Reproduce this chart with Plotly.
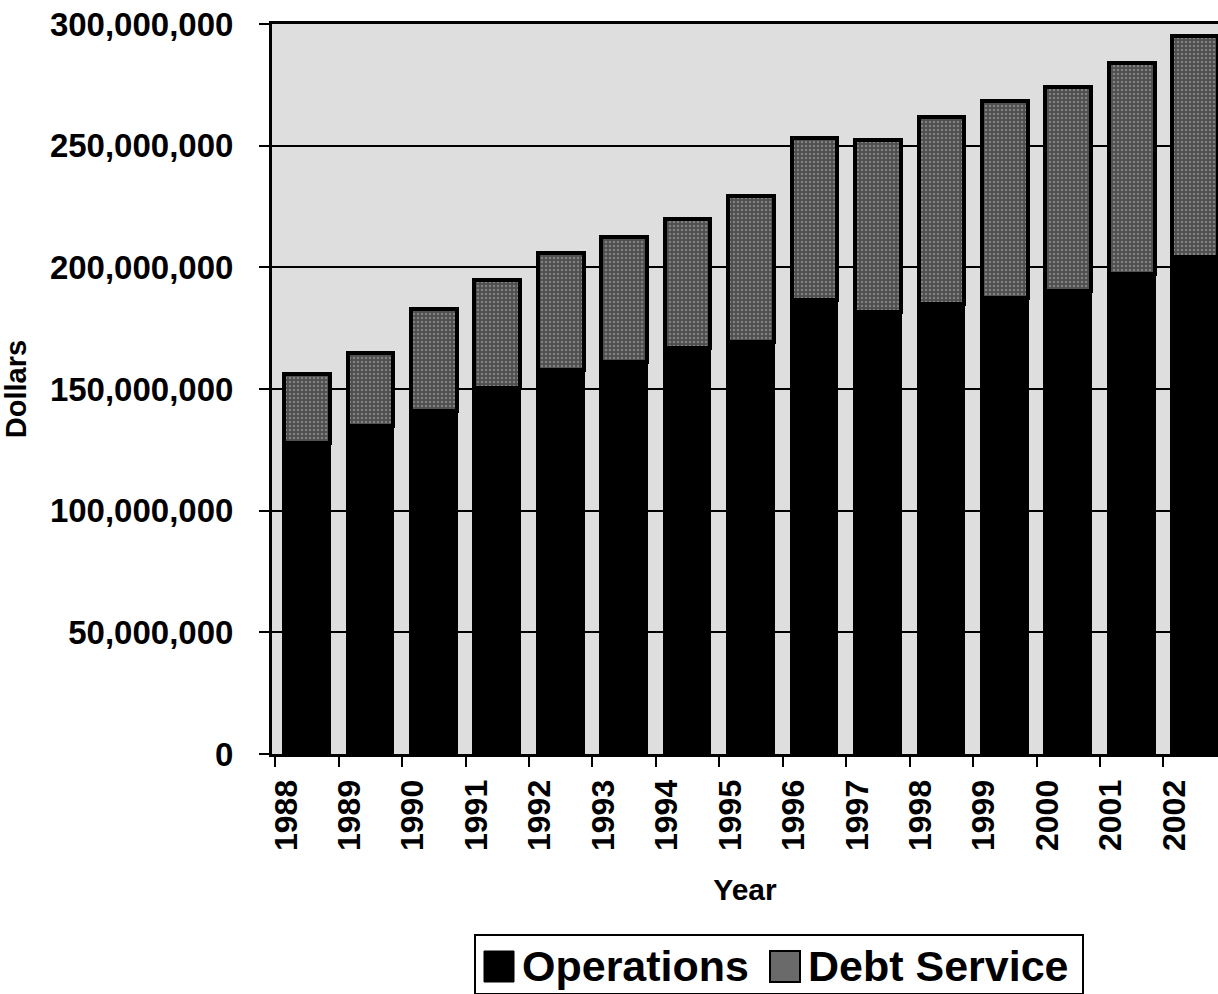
import plotly.graph_objects as go

# Annual spending, split into operations and debt service (dollars)
years = ["1988", "1989", "1990", "1991", "1992", "1993", "1994", "1995",
         "1996", "1997", "1998", "1999", "2000", "2001", "2002"]
operations = [127_800_000, 134_800_000, 141_000_000, 150_400_000, 157_800_000,
              161_100_000, 166_900_000, 169_300_000, 186_600_000, 181_700_000,
              185_000_000, 187_400_000, 190_300_000, 197_300_000, 204_300_000]
debt_service = [28_400_000, 30_000_000, 41_900_000, 44_400_000, 48_100_000,
                51_400_000, 53_000_000, 60_000_000, 66_600_000, 70_700_000,
                76_800_000, 81_000_000, 83_800_000, 86_700_000, 90_800_000]
y_ticks = [0, 50_000_000, 100_000_000, 150_000_000, 200_000_000, 250_000_000, 300_000_000]

W, H = 1218, 994
M_L, M_R, M_T, M_B = 272, 0, 24, 240
FONT = "Liberation Sans, Arial, sans-serif"

# each year occupies one unit slot; the bar sits in the middle of its slot
slot = list(range(len(years)))
bar_x = [i + 0.5 for i in slot]

fig = go.Figure()
fig.add_trace(go.Bar(
    x=bar_x, y=operations, name="Operations", width=0.72,
    marker=dict(color="black", line=dict(color="black", width=3)),
))
fig.add_trace(go.Bar(
    x=bar_x, y=debt_service, name="Debt Service", width=0.72,
    marker=dict(
        color="#5a5a5a",
        line=dict(color="black", width=4),
        pattern=dict(shape=".", fgcolor="#b4b4b4", bgcolor="#4e4e4e",
                     size=4, solidity=0.3, fillmode="overlay"),
    ),
))

plot_w = W - M_L - M_R
plot_h = H - M_T - M_B


def px(x, y):
    """Convert page pixels to paper coordinates."""
    return (x - M_L) / plot_w, (H - M_B - y) / plot_h


# hand-built legend box with large swatches
shapes = []
annotations = []
x0, y0 = px(475, 935)
x1, y1 = px(1083, 994)
shapes.append(dict(type="rect", xref="paper", yref="paper", x0=x0, y0=y0, x1=x1, y1=y1,
                   line=dict(color="black", width=2), fillcolor="white", layer="above"))
sx0, sy0 = px(484, 951)
sx1, sy1 = px(514, 982)
shapes.append(dict(type="rect", xref="paper", yref="paper", x0=sx0, y0=sy0, x1=sx1, y1=sy1,
                   line=dict(color="black", width=1), fillcolor="black", layer="above"))
gx0, gy0 = px(770, 951)
gx1, gy1 = px(800, 982)
shapes.append(dict(type="rect", xref="paper", yref="paper", x0=gx0, y0=gy0, x1=gx1, y1=gy1,
                   line=dict(color="black", width=2), fillcolor="#6a6a6a", layer="above"))
for label, lx in (("Operations", 520), ("Debt Service", 806)):
    ax, ay = px(lx, 966)
    annotations.append(dict(text=label, xref="paper", yref="paper", x=ax, y=ay,
                            xanchor="left", yanchor="middle", showarrow=False,
                            font=dict(family=FONT, size=43, color="black", weight="bold")))

fig.update_layout(
    width=W, height=H,
    margin=dict(l=M_L, r=M_R, t=M_T, b=M_B),
    barmode="stack",
    bargap=0,
    showlegend=False,
    paper_bgcolor="white",
    plot_bgcolor="#dedede",
    font=dict(family=FONT, color="black", weight="bold"),
    shapes=shapes,
    annotations=annotations,
)

fig.update_xaxes(
    range=[-0.05, 14.86],
    tickmode="array", tickvals=slot, ticktext=years,
    tickangle=-90, ticks="outside", ticklen=10, tickwidth=2, tickcolor="black",
    ticklabelshift=11, ticklabelstandoff=0,
    tickfont=dict(family=FONT, size=32, color="black", weight="bold"),
    showgrid=False, zeroline=False,
    showline=True, linecolor="black", linewidth=3, mirror=True,
    title=dict(text="Year", standoff=30,
               font=dict(family=FONT, size=30, color="black", weight="bold")),
)
fig.update_yaxes(
    range=[0, 300_000_000],
    tickmode="array", tickvals=y_ticks, tickformat=",d",
    ticks="outside", ticklen=10, tickwidth=2, tickcolor="black",
    ticklabelstandoff=19,
    tickfont=dict(family=FONT, size=33, color="black", weight="bold"),
    showgrid=True, gridcolor="black", gridwidth=2,
    zeroline=False,
    showline=True, linecolor="black", linewidth=3,
    title=dict(text="Dollars", standoff=16,
               font=dict(family=FONT, size=29, color="black", weight="bold")),
)

fig.write_html("out.html")
